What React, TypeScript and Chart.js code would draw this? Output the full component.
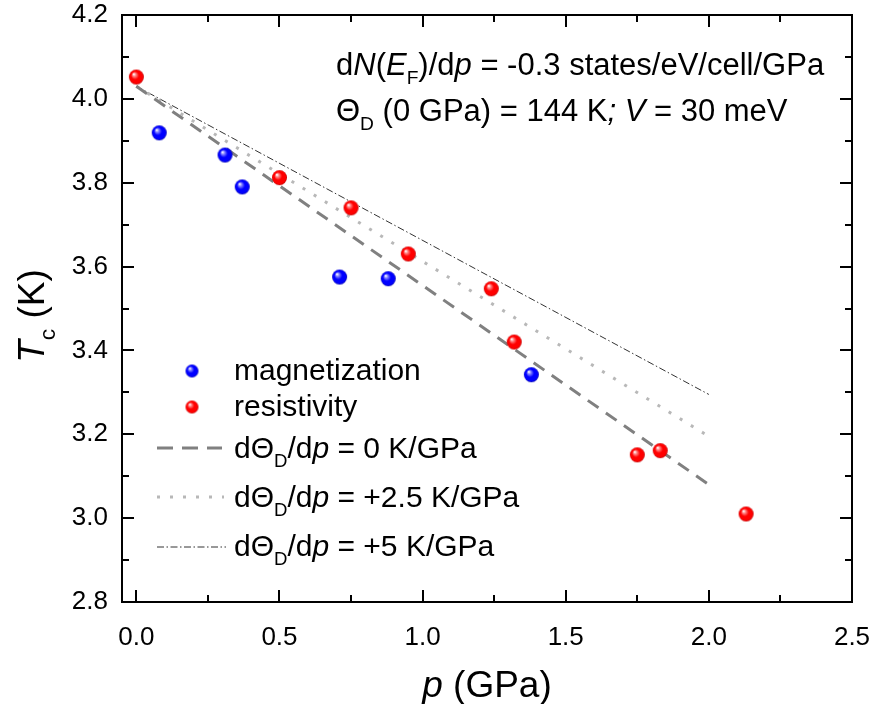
import React, { useEffect, useRef } from 'react';
import { Chart, registerables } from 'chart.js';

Chart.register(...registerables);

// ---- data ----
const magP = [0.08, 0.31, 0.37, 0.71, 0.88, 1.38];
const magTc = [3.919, 3.866, 3.79, 3.575, 3.571, 3.342];
const resP = [0.0, 0.5, 0.75, 0.95, 1.24, 1.32, 1.75, 1.83, 2.13];
const resTc = [4.052, 3.812, 3.74, 3.63, 3.547, 3.42, 3.151, 3.161, 3.01];
const modelP = [0.0, 2.0];
const model0 = [4.03, 3.08];
const model25 = [4.03, 3.195];
const model5 = [4.03, 3.295];
const xTicks = [0, 0.5, 1.0, 1.5, 2.0, 2.5];
const xMinor = [0.25, 0.75, 1.25, 1.75, 2.25];
const yTicks = [2.8, 3.0, 3.2, 3.4, 3.6, 3.8, 4.0, 4.2];
const yMinor = [2.9, 3.1, 3.3, 3.5, 3.7, 3.9, 4.1];

const FAMILY = '"Liberation Sans", Arial, Helvetica, sans-serif';

type Seg = { t: string; i?: boolean; sub?: boolean };

function segFont(s: Seg, size: number) {
  const fs = s.sub ? size * 0.62 : size;
  return `${s.i ? 'italic ' : ''}${fs}px ${FAMILY}`;
}
function measureRich(ctx: CanvasRenderingContext2D, segs: Seg[], size: number) {
  let w = 0;
  for (const s of segs) {
    ctx.font = segFont(s, size);
    w += ctx.measureText(s.t).width;
  }
  return w;
}
function drawRich(ctx: CanvasRenderingContext2D, segs: Seg[], x: number, y: number, size: number) {
  let cx = x;
  ctx.textBaseline = 'alphabetic';
  ctx.textAlign = 'left';
  for (const s of segs) {
    ctx.font = segFont(s, size);
    const dy = s.sub ? size * 0.3 : 0;
    ctx.fillText(s.t, cx, y + dy);
    cx += ctx.measureText(s.t).width;
  }
}

function makeSphere(light: string, base: string, dark: string, r: number) {
  const s = Math.ceil(r * 2 + 2);
  const c = document.createElement('canvas');
  c.width = s;
  c.height = s;
  const g = c.getContext('2d')!;
  const cx = s / 2, cy = s / 2;
  const grad = g.createRadialGradient(cx - r * 0.35, cy - r * 0.4, r * 0.05, cx, cy, r);
  grad.addColorStop(0, '#ffffff');
  grad.addColorStop(0.18, light);
  grad.addColorStop(0.5, base);
  grad.addColorStop(0.85, base);
  grad.addColorStop(1, dark);
  g.fillStyle = grad;
  g.beginPath();
  g.arc(cx, cy, r, 0, Math.PI * 2);
  g.fill();
  return c;
}

export default function App() {
  const ref = useRef<HTMLCanvasElement>(null);
  useEffect(() => {
    const canvas = ref.current!;
    const redS = makeSphere('#ff8c8c', '#ff0000', '#c00000', 7.5);
    const blueS = makeSphere('#8c8cff', '#0000ff', '#0000b0', 7.5);
    const redL = makeSphere('#ff8c8c', '#ff0000', '#c00000', 6.5);
    const blueL = makeSphere('#8c8cff', '#0000ff', '#0000b0', 6.5);

    const overlay = {
      id: 'overlay',
      afterDraw(chart: any) {
        const { ctx, chartArea: a, scales } = chart;
        const x = scales.x, y = scales.y;
        ctx.save();
        // frame
        ctx.strokeStyle = '#000';
        ctx.lineWidth = 2;
        ctx.strokeRect(a.left, a.top, a.right - a.left, a.bottom - a.top);
        ctx.beginPath();
        const tk = (len: number, vals: number[], axis: 'x' | 'y') => {
          for (const v of vals) {
            if (axis === 'x') {
              const px = Math.round(x.getPixelForValue(v));
              ctx.moveTo(px, a.bottom);
              ctx.lineTo(px, a.bottom - len);
              ctx.moveTo(px, a.top);
              ctx.lineTo(px, a.top + len);
            } else {
              const py = Math.round(y.getPixelForValue(v));
              ctx.moveTo(a.left, py);
              ctx.lineTo(a.left + len, py);
              ctx.moveTo(a.right, py);
              ctx.lineTo(a.right - len, py);
            }
          }
        };
        tk(12, xTicks, 'x');
        tk(7, xMinor, 'x');
        tk(12, yTicks, 'y');
        tk(7, yMinor, 'y');
        ctx.stroke();

        ctx.fillStyle = '#000';
        // annotations
        drawRich(ctx, [
          { t: 'd' }, { t: 'N', i: true }, { t: '(' }, { t: 'E', i: true }, { t: 'F', sub: true },
          { t: ')/d' }, { t: 'p', i: true }, { t: ' = -0.3 states/eV/cell/GPa' },
        ], 336, 75, 31);
        drawRich(ctx, [
          { t: 'Θ' }, { t: 'D', sub: true }, { t: ' (0 GPa) = 144 K' }, { t: '; ', i: true },
          { t: 'V', i: true }, { t: ' = 30 meV' },
        ], 336, 121, 31);

        // legend
        ctx.drawImage(blueL, 192 - blueL.width / 2, 371 - blueL.height / 2);
        ctx.drawImage(redL, 192 - redL.width / 2, 407 - redL.height / 2);
        const lx = 234;
        drawRich(ctx, [{ t: 'magnetization' }], lx, 380, 30);
        drawRich(ctx, [{ t: 'resistivity' }], lx, 416, 30);
        const leg = (pct: string) => [
          { t: 'dΘ' }, { t: 'D', sub: true }, { t: '/d' }, { t: 'p', i: true }, { t: ` = ${pct} K/GPa` },
        ];
        drawRich(ctx, leg('0'), lx, 458, 30);
        drawRich(ctx, leg('+2.5'), lx, 507, 30);
        drawRich(ctx, leg('+5'), lx, 556, 30);
        // legend lines
        const legLine = (yy: number, color: string, w: number, dash: number[], x1: number) => {
          ctx.beginPath();
          ctx.strokeStyle = color;
          ctx.lineWidth = w;
          ctx.setLineDash(dash);
          ctx.moveTo(157, yy);
          ctx.lineTo(x1, yy);
          ctx.stroke();
        };
        legLine(448, '#808080', 3, [16, 9], 222);
        legLine(497, '#b8b8b8', 3, [3, 10], 224);
        legLine(547, '#333333', 1, [7, 2.5, 1.5, 2.5], 226);
        ctx.setLineDash([]);

        // axis titles
        ctx.fillStyle = '#000';
        const xt: Seg[] = [{ t: 'p', i: true }, { t: ' (GPa)' }];
        const xw = measureRich(ctx, xt, 37);
        drawRich(ctx, xt, (a.left + a.right) / 2 - xw / 2, 697, 37);
        const yt: Seg[] = [{ t: 'T', i: true }, { t: 'c', sub: true }, { t: ' (K)' }];
        const yw = measureRich(ctx, yt, 37);
        ctx.translate(44, 316);
        ctx.rotate(-Math.PI / 2);
        drawRich(ctx, yt, -yw / 2, 0, 37);
        ctx.restore();
      },
    };

    const chart = new Chart(canvas, {
      type: 'scatter',
      data: {
        datasets: [
          {
            label: 'magnetization',
            data: magP.map((p, i) => ({ x: p, y: magTc[i] })),
            pointStyle: blueS as any,
            pointRadius: 8,
            showLine: false,
          },
          {
            label: 'resistivity',
            data: resP.map((p, i) => ({ x: p, y: resTc[i] })),
            pointStyle: redS as any,
            pointRadius: 8,
            showLine: false,
          },
          {
            label: 'dΘD/dp = 0 K/GPa',
            data: modelP.map((p, i) => ({ x: p, y: model0[i] })),
            showLine: true,
            pointRadius: 0,
            borderColor: '#808080',
            borderWidth: 3,
            borderDash: [13, 9],
            fill: false,
          },
          {
            label: 'dΘD/dp = +2.5 K/GPa',
            data: modelP.map((p, i) => ({ x: p, y: model25[i] })),
            showLine: true,
            pointRadius: 0,
            borderColor: '#b8b8b8',
            borderWidth: 3,
            borderDash: [3, 10],
            fill: false,
          },
          {
            label: 'dΘD/dp = +5 K/GPa',
            data: modelP.map((p, i) => ({ x: p, y: model5[i] })),
            showLine: true,
            pointRadius: 0,
            borderColor: '#333333',
            borderWidth: 1,
            borderDash: [7, 2.5, 1.5, 2.5],
            fill: false,
          },
        ],
      },
      options: {
        responsive: false,
        animation: false,
        devicePixelRatio: 1,
        layout: { padding: { left: 0, top: 15, right: 23, bottom: 0 } },
        plugins: { legend: { display: false }, tooltip: { enabled: false } },
        scales: {
          x: {
            type: 'linear',
            min: -0.05,
            max: 2.5,
            grid: { display: false, drawTicks: false },
            border: { display: false },
            afterBuildTicks: (s: any) => { s.ticks = xTicks.map((v) => ({ value: v })); },
            afterFit: (s: any) => { s.height = 102; s.paddingLeft = 0; s.paddingRight = 0; },
            ticks: {
              color: '#000',
              padding: 20,
              maxRotation: 0,
              font: { family: FAMILY, size: 26 },
              callback: (v: any) => Number(v).toFixed(1),
            },
          },
          y: {
            type: 'linear',
            min: 2.8,
            max: 4.2,
            grid: { display: false, drawTicks: false },
            border: { display: false },
            afterBuildTicks: (s: any) => { s.ticks = yTicks.map((v) => ({ value: v })); },
            afterFit: (s: any) => { s.width = 122; s.paddingTop = 0; s.paddingBottom = 0; },
            ticks: {
              color: '#000',
              padding: 14,
              font: { family: FAMILY, size: 26 },
              callback: (v: any) => Number(v).toFixed(1),
            },
          },
        },
      },
      plugins: [overlay],
    });
    return () => chart.destroy();
  }, []);

  return (
    <div style={{ position: 'absolute', left: 0, top: 0, width: 875, height: 704, background: '#fff' }}>
      <canvas ref={ref} width={875} height={704} />
    </div>
  );
}
